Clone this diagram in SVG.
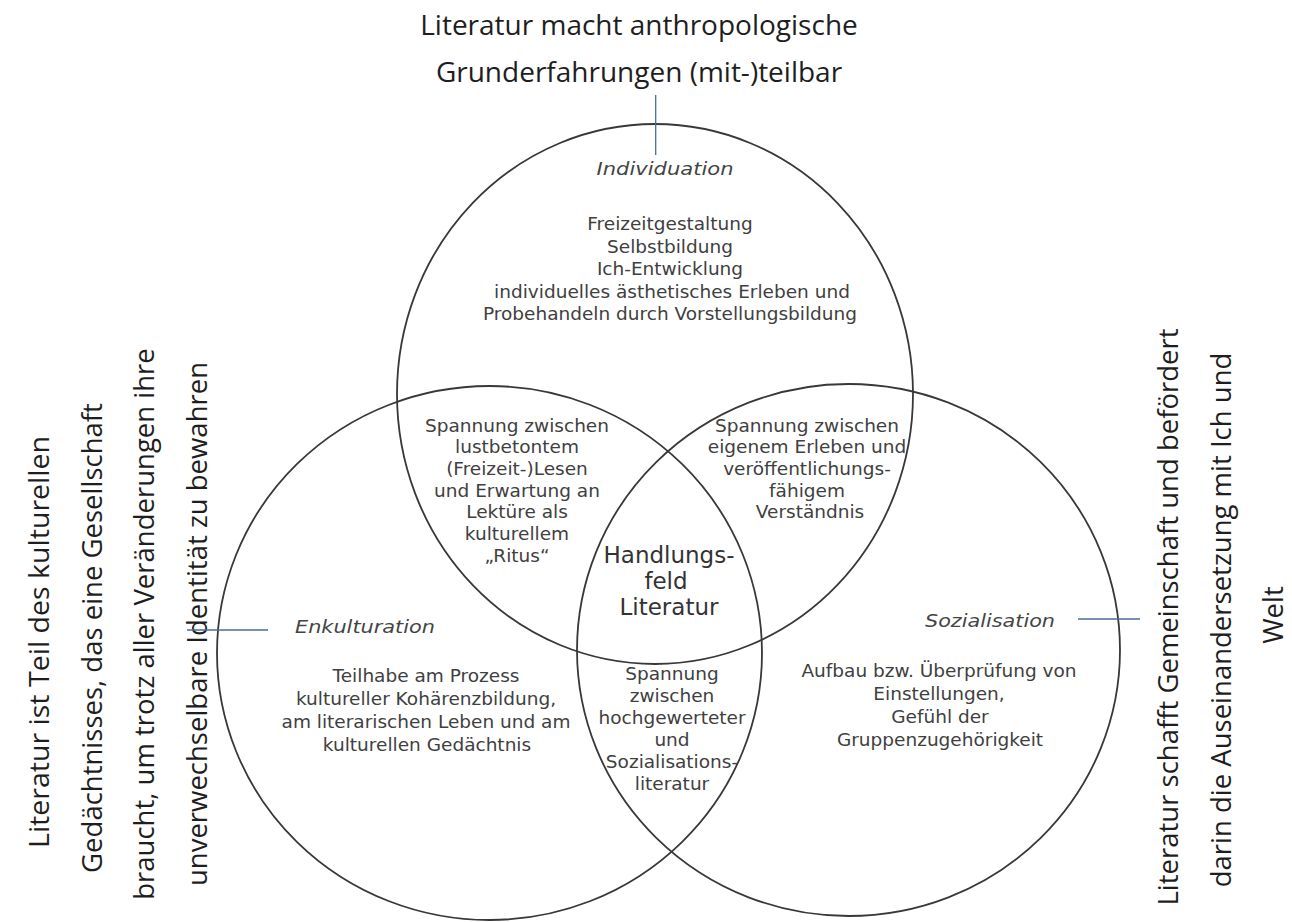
<svg xmlns="http://www.w3.org/2000/svg" width="1292" height="922" viewBox="0 0 1292 922">
<style>
.ring{fill:none;stroke:#383838;stroke-width:1.8}
.lbl{font-family:"DejaVu Sans",Verdana,sans-serif;font-style:italic;font-size:18px;fill:#444;text-anchor:middle}
.body{font-family:"DejaVu Sans",Verdana,sans-serif;font-size:18.5px;fill:#404040;text-anchor:middle}
.core{font-family:"DejaVu Sans",Verdana,sans-serif;font-size:23px;fill:#333;text-anchor:middle}
.note{font-family:"Open Sans","Liberation Sans",sans-serif;font-size:27.5px;fill:#1e1e1e;text-anchor:middle}
.title{font-family:"Open Sans","Liberation Sans",sans-serif;font-size:28px;fill:#1e1e1e;text-anchor:middle}
.conn{stroke:#4a6c9b;stroke-width:1.3;fill:none}
</style>
<rect width="1292" height="922" fill="#ffffff"/>

<g id="title">
<text class="title" x="639" y="35">Literatur macht anthropologische</text>
<text class="title" x="639" y="82">Grunderfahrungen (mit-)teilbar</text>
</g>

<g id="note-left">
<text class="note" transform="translate(49,642) rotate(-90)" textLength="412" lengthAdjust="spacingAndGlyphs">Literatur ist Teil des kulturellen</text>
<text class="note" transform="translate(102,638) rotate(-90)">Gedächtnisses, das eine Gesellschaft</text>
<text class="note" transform="translate(154,624) rotate(-90)">braucht, um trotz aller Veränderungen ihre</text>
<text class="note" transform="translate(207,624) rotate(-90)">unverwechselbare Identität zu bewahren</text>
</g>

<g id="note-right">
<text class="note" transform="translate(1178,617) rotate(-90)">Literatur schafft Gemeinschaft und befördert</text>
<text class="note" transform="translate(1231,620) rotate(-90)">darin die Auseinandersetzung mit Ich und</text>
<text class="note" transform="translate(1283,615) rotate(-90)">Welt</text>
</g>

<g id="individuation">
<ellipse class="ring" cx="655" cy="394" rx="258" ry="270"/>
<text class="lbl" x="665" y="175" textLength="137" lengthAdjust="spacingAndGlyphs">Individuation</text>
<text class="body" x="670" y="230">Freizeitgestaltung</text>
<text class="body" x="670" y="252.5">Selbstbildung</text>
<text class="body" x="670" y="275">Ich-Entwicklung</text>
<text class="body" x="672" y="297.5">individuelles ästhetisches Erleben und</text>
<text class="body" x="670" y="320">Probehandeln durch Vorstellungsbildung</text>
</g>

<g id="enkulturation">
<ellipse class="ring" cx="489.5" cy="653" rx="272.5" ry="267"/>
<text class="lbl" x="365" y="633" textLength="140" lengthAdjust="spacingAndGlyphs">Enkulturation</text>
<text class="body" x="426" y="682">Teilhabe am Prozess</text>
<text class="body" x="426" y="705">kultureller Kohärenzbildung,</text>
<text class="body" x="426" y="728">am literarischen Leben und am</text>
<text class="body" x="427" y="751">kulturellen Gedächtnis</text>
</g>

<g id="sozialisation">
<ellipse class="ring" cx="848.5" cy="650" rx="271.5" ry="266"/>
<text class="lbl" x="990" y="627" textLength="130" lengthAdjust="spacingAndGlyphs">Sozialisation</text>
<text class="body" x="939" y="677">Aufbau bzw. Überprüfung von</text>
<text class="body" x="939" y="700">Einstellungen,</text>
<text class="body" x="940" y="723">Gefühl der</text>
<text class="body" x="940" y="746">Gruppenzugehörigkeit</text>
</g>

<g id="lens-individuation-enkulturation">
<text class="body" x="517" y="431.5">Spannung zwischen</text>
<text class="body" x="517" y="453.2">lustbetontem</text>
<text class="body" x="517" y="474.9">(Freizeit-)Lesen</text>
<text class="body" x="517" y="496.6">und Erwartung an</text>
<text class="body" x="517" y="518.3">Lektüre als</text>
<text class="body" x="517" y="540">kulturellem</text>
<text class="body" x="517" y="561.7">„Ritus“</text>
</g>

<g id="lens-individuation-sozialisation">
<text class="body" x="807" y="431.5">Spannung zwischen</text>
<text class="body" x="807" y="453.2">eigenem Erleben und</text>
<text class="body" x="807" y="474.9">veröffentlichungs-</text>
<text class="body" x="807" y="496.6">fähigem</text>
<text class="body" x="810" y="518.3">Verständnis</text>
</g>

<g id="lens-enkulturation-sozialisation">
<text class="body" x="672" y="680">Spannung</text>
<text class="body" x="672" y="702">zwischen</text>
<text class="body" x="672" y="724">hochgewerteter</text>
<text class="body" x="672" y="746">und</text>
<text class="body" x="672" y="768">Sozialisations-</text>
<text class="body" x="672" y="790">literatur</text>
</g>

<g id="center">
<text class="core" x="669" y="563">Handlungs-</text>
<text class="core" x="666" y="589">feld</text>
<text class="core" x="669" y="615">Literatur</text>
</g>

<g id="connectors">
<path class="conn" d="M655.7 95 V155"/>
<path class="conn" d="M187 630 H268"/>
<path class="conn" d="M1078 619 H1140"/>
</g>
</svg>
